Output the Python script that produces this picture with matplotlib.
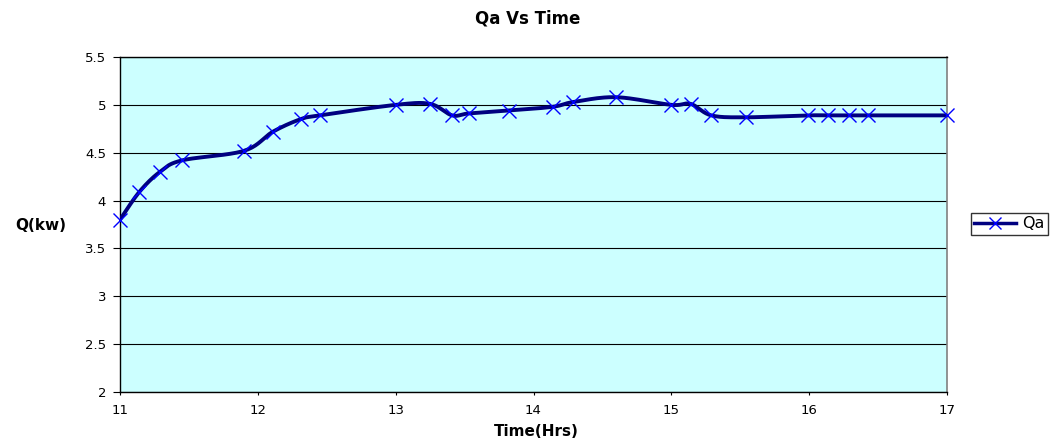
import numpy as np
import matplotlib
matplotlib.use("Agg")
import matplotlib.pyplot as plt
from matplotlib.lines import Line2D

plt.rcParams['font.family'] = ['DejaVu Sans']

# Measured time (hours) and heat rate Qa (kW)
time_hrs = [11.0, 11.14, 11.29, 11.45, 11.90, 12.11, 12.31, 12.45, 13.0, 13.25,
            13.41, 13.53, 13.82, 14.14, 14.29, 14.60, 15.0, 15.14, 15.29, 15.54,
            15.99, 16.14, 16.29, 16.43, 17.0]
qa_kw = [3.80, 4.09, 4.30, 4.42, 4.52, 4.72, 4.85, 4.89, 5.00, 5.01,
         4.89, 4.91, 4.94, 4.98, 5.03, 5.08, 5.00, 5.01, 4.89, 4.87,
         4.89, 4.89, 4.89, 4.89, 4.89]
x_ticks = [11, 12, 13, 14, 15, 16, 17]
y_ticks = [2, 2.5, 3, 3.5, 4, 4.5, 5, 5.5]
y_tick_labels = ["2", "2.5", "3", "3.5", "4", "4.5", "5", "5.5"]


def smooth_curve(x, y, n=20, tension=0.5):
    """Cardinal-spline smoothing through every point."""
    x = np.asarray(x, float)
    y = np.asarray(y, float)
    px = np.concatenate([[x[0]], x, [x[-1]]])
    py = np.concatenate([[y[0]], y, [y[-1]]])
    xs, ys = [], []
    t = np.linspace(0, 1, n, endpoint=False)
    for i in range(1, len(px) - 2):
        p0x, p1x, p2x, p3x = px[i - 1], px[i], px[i + 1], px[i + 2]
        p0y, p1y, p2y, p3y = py[i - 1], py[i], py[i + 1], py[i + 2]
        m1x, m2x = tension * (p2x - p0x), tension * (p3x - p1x)
        m1y, m2y = tension * (p2y - p0y), tension * (p3y - p1y)
        h00 = 2 * t**3 - 3 * t**2 + 1
        h10 = t**3 - 2 * t**2 + t
        h01 = -2 * t**3 + 3 * t**2
        h11 = t**3 - t**2
        xs.append(h00 * p1x + h10 * m1x + h01 * p2x + h11 * m2x)
        ys.append(h00 * p1y + h10 * m1y + h01 * p2y + h11 * m2y)
    xs.append([x[-1]])
    ys.append([y[-1]])
    return np.concatenate(xs), np.concatenate(ys)


fig = plt.figure(figsize=(10.57, 4.43), dpi=100)
ax = fig.add_axes([120 / 1057, 1 - 392 / 443, (947 - 120) / 1057, (392 - 57) / 443])
ax.set_facecolor('#CCFFFF')

sx, sy = smooth_curve(time_hrs, qa_kw)
ax.plot(sx, sy, color='#000080', lw=2.8, solid_capstyle='round', zorder=3)
ax.plot(time_hrs, qa_kw, ls='none', marker='x', ms=10, mew=1.0,
        color='#0000FF', zorder=4, clip_on=False)

ax.set_xlim(11, 17)
ax.set_ylim(2, 5.5)
ax.set_xticks(x_ticks)
ax.set_xticklabels([str(v) for v in x_ticks])
ax.set_yticks(y_ticks)
ax.set_yticklabels(y_tick_labels)
ax.yaxis.grid(True, color='#000000', lw=0.8)
ax.set_axisbelow(True)
ax.tick_params(axis='y', direction='out', length=5, width=0.8,
               labelsize=9.5, colors='black', pad=5)
ax.tick_params(axis='x', direction='out', length=2.5, width=0.8,
               labelsize=9.5, colors='black', pad=6)

for side in ('left', 'bottom', 'top'):
    ax.spines[side].set_color('black')
    ax.spines[side].set_linewidth(1.0)
ax.spines['right'].set_color('#808080')
ax.spines['right'].set_linewidth(1.2)

fig.text(528 / 1057, 1 - 18 / 443, 'Qa Vs Time', ha='center', va='center',
         fontsize=12, fontweight='bold')
fig.text(41 / 1057, 1 - 225 / 443, 'Q(kw)', ha='center', va='center',
         fontsize=11, fontweight='bold')
fig.text(536 / 1057, 1 - 432 / 443, 'Time(Hrs)', ha='center', va='center',
         fontsize=11, fontweight='bold')

handle = Line2D([], [], color='#000080', lw=2.5, marker='x', ms=9, mew=1.0,
                markeredgecolor='#0000FF')
leg = fig.legend([handle], ['Qa'], loc='center left',
                 bbox_to_anchor=(971 / 1057, 1 - 224 / 443), frameon=True,
                 fancybox=False, edgecolor='black', fontsize=11.5,
                 handlelength=2.6, handletextpad=0.4, borderpad=0.2,
                 borderaxespad=0)
leg.get_frame().set_linewidth(1.0)

fig.savefig('out.png', dpi=100)
